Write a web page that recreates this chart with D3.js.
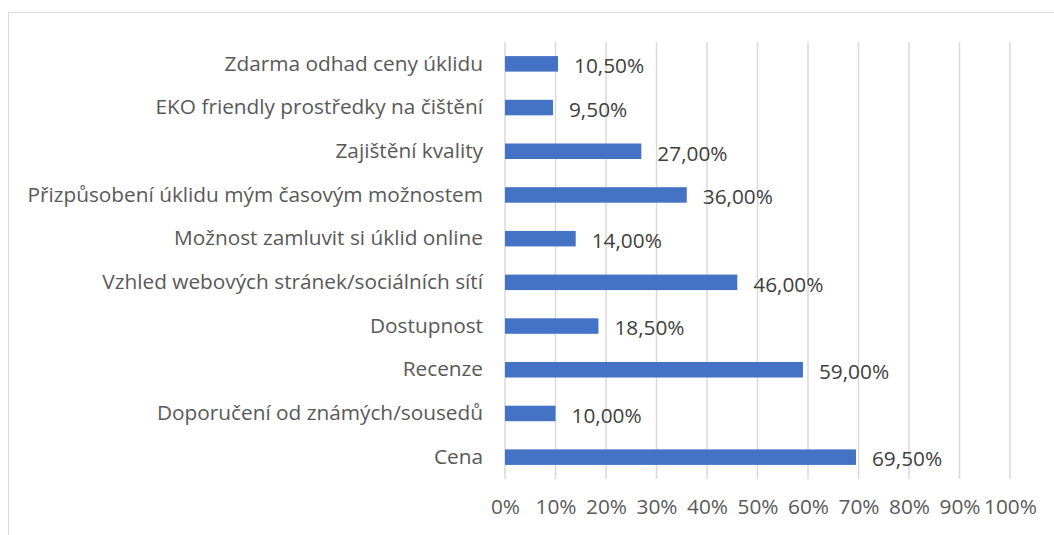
<!DOCTYPE html>
<html>
<head>
<meta charset="utf-8">
<script src="https://cdnjs.cloudflare.com/ajax/libs/d3/7.8.5/d3.min.js"></script>
<style>
  body { margin: 0; background: #fff; }
  text { font-family: "Open Sans", Lato, sans-serif; }
</style>
</head>
<body>
<svg id="plot"></svg>
<script>
var width = 1054,
    height = 535;

// categories top to bottom, as in the picture
var categories = [
  "Zdarma odhad ceny úklidu",
  "EKO friendly prostředky na čištění",
  "Zajištění kvality",
  "Přizpůsobení úklidu mým časovým možnostem",
  "Možnost zamluvit si úklid online",
  "Vzhled webových stránek/sociálních sítí",
  "Dostupnost",
  "Recenze",
  "Doporučení od známých/sousedů",
  "Cena"
];
var values = [0.105, 0.095, 0.27, 0.36, 0.14, 0.46, 0.185, 0.59, 0.10, 0.695];
var tickValues = [0, 0.1, 0.2, 0.3, 0.4, 0.5, 0.6, 0.7, 0.8, 0.9, 1];

var data = categories.map((c, i) => ({name: c, value: values[i]}));

var margin = {top: 42, right: 44, bottom: 56, left: 505};
var fontSize = 20.8;

var svg = d3.select("#plot")
    .attr("width", width)
    .attr("height", height);

// chart frame
svg.append("rect")
    .attr("x", 8.5)
    .attr("y", 12.5)
    .attr("width", 1200)
    .attr("height", 700)
    .attr("fill", "none")
    .attr("stroke", "#d9d9d9")
    .attr("stroke-width", 1);

var xScale = d3.scaleLinear()
    .domain([0, 1])
    .range([margin.left, width - margin.right]);

var yScale = d3.scaleBand()
    .domain(categories)
    .range([margin.top, height - margin.bottom])
    .paddingInner(0.645)
    .paddingOuter(0.3225);

// gridlines
svg.append("g")
    .selectAll("line")
    .data(tickValues)
    .join("line")
    .attr("x1", d => xScale(d))
    .attr("x2", d => xScale(d))
    .attr("y1", margin.top)
    .attr("y2", height - margin.bottom)
    .attr("stroke", "#d9d9d9")
    .attr("stroke-width", 1.5);

// x axis labels
var xAxis = d3.axisBottom(xScale)
    .tickValues(tickValues)
    .tickFormat(d3.format(".0%"))
    .tickSize(0)
    .tickPadding(20);

svg.append("g")
    .attr("transform", "translate(0," + (height - margin.bottom) + ")")
    .call(xAxis)
    .call(g => g.select(".domain").remove())
    .call(g => g.selectAll("text")
      .attr("font-size", fontSize)
      .attr("font-family", "'Open Sans', Lato, sans-serif")
      .attr("fill", "#595959"));

// y axis labels
var yAxis = d3.axisLeft(yScale)
    .tickSize(0)
    .tickPadding(22);

svg.append("g")
    .attr("transform", "translate(" + margin.left + ",0)")
    .call(yAxis)
    .call(g => g.select(".domain").remove())
    .call(g => g.selectAll("text")
      .attr("font-size", fontSize)
      .attr("font-family", "'Open Sans', Lato, sans-serif")
      .attr("fill", "#595959"));

// bars
svg.append("g")
    .selectAll("rect")
    .data(data)
    .join("rect")
    .attr("x", xScale(0))
    .attr("y", d => yScale(d.name))
    .attr("width", d => xScale(d.value) - xScale(0))
    .attr("height", yScale.bandwidth())
    .attr("fill", "#4472c4");

// data labels
var fmt = d => (d * 100).toFixed(2).replace(".", ",") + "%";

svg.append("g")
    .selectAll("text")
    .data(data)
    .join("text")
    .attr("x", d => xScale(d.value) + 16)
    .attr("y", d => yScale(d.name) + yScale.bandwidth() / 2 + 2)
    .attr("dy", "0.35em")
    .attr("font-size", fontSize)
    .attr("fill", "#404040")
    .text(d => fmt(d.value));
</script>
</body>
</html>
